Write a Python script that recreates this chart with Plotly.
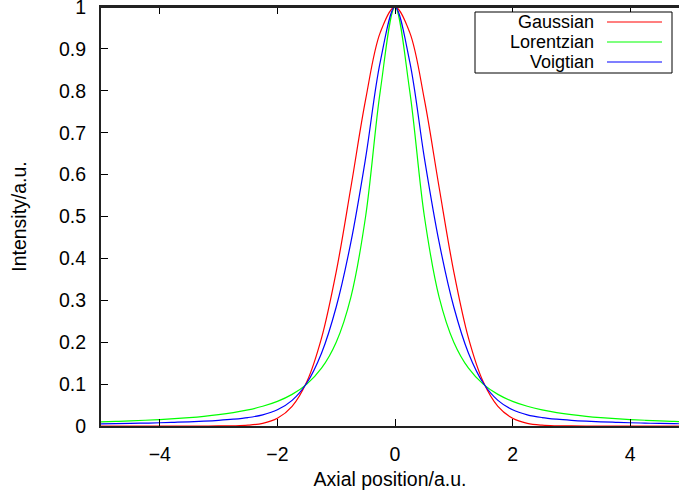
import plotly.graph_objects as go

x_values = [-5.0, -4.75, -4.5, -4.25, -4.0, -3.75, -3.5, -3.25, -3.0, -2.75, -2.5, -2.25,
            -2.0, -1.75, -1.5, -1.25, -1.0, -0.75, -0.5, -0.25, 0.0,
            0.25, 0.5, 0.75, 1.0, 1.25, 1.5, 1.75, 2.0, 2.25, 2.5, 2.75, 3.0,
            3.25, 3.5, 3.75, 4.0, 4.25, 4.5, 4.75, 5.0]

gaussian = [0.0, 0.0, 0.0, 0.0, 0.0, 0.0, 0.0, 0.0, 0.0001, 0.0005, 0.0019, 0.0063,
            0.0183, 0.0468, 0.1054, 0.2096, 0.3679, 0.5698, 0.7788, 0.9394, 1.0,
            0.9394, 0.7788, 0.5698, 0.3679, 0.2096, 0.1054, 0.0468, 0.0183, 0.0063, 0.0019, 0.0005, 0.0001,
            0.0, 0.0, 0.0, 0.0, 0.0, 0.0, 0.0, 0.0]

lorentzian = [0.0099, 0.0110, 0.0122, 0.0137, 0.0154, 0.0175, 0.0200, 0.0231, 0.0270, 0.0320, 0.0385, 0.0471,
              0.0588, 0.0755, 0.1000, 0.1379, 0.2000, 0.3077, 0.5000, 0.8000, 1.0,
              0.8000, 0.5000, 0.3077, 0.2000, 0.1379, 0.1000, 0.0755, 0.0588, 0.0471, 0.0385, 0.0320, 0.0270,
              0.0231, 0.0200, 0.0175, 0.0154, 0.0137, 0.0122, 0.0110, 0.0099]

voigtian = [0.0050, 0.0055, 0.0061, 0.0069, 0.0077, 0.0088, 0.0100, 0.0116, 0.0136, 0.0163, 0.0202, 0.0267,
            0.0386, 0.0612, 0.1027, 0.1738, 0.2840, 0.4388, 0.6394, 0.8697, 1.0,
            0.8697, 0.6394, 0.4388, 0.2840, 0.1738, 0.1027, 0.0612, 0.0386, 0.0267, 0.0202, 0.0163, 0.0136,
            0.0116, 0.0100, 0.0088, 0.0077, 0.0069, 0.0061, 0.0055, 0.0050]

series_names = ["Gaussian", "Lorentzian", "Voigtian"]
series_values = [gaussian, lorentzian, voigtian]
series_colors = ["#ff0000", "#00ff00", "#0000ff"]

x_ticks = [-4, -2, 0, 2, 4]
x_tick_labels = ["\u22124", "\u22122", "0", "2", "4"]
y_ticks = [0, 0.1, 0.2, 0.3, 0.4, 0.5, 0.6, 0.7, 0.8, 0.9, 1]
y_tick_labels = ["0", "0.1", "0.2", "0.3", "0.4", "0.5", "0.6", "0.7", "0.8", "0.9", "1"]

FONT = "Liberation Sans, Arial, sans-serif"
W, H = 679, 492
L, R, T, B = 101, 0, 7, 66

fig = go.Figure()
for name, vals, col in zip(series_names, series_values, series_colors):
    fig.add_trace(go.Scatter(x=x_values, y=vals, mode="lines", name=name,
                             line=dict(color=col, width=1.2, shape="spline", smoothing=1.0),
                             showlegend=False))

fig.update_layout(
    width=W, height=H,
    margin=dict(l=L, r=R, t=T, b=B, pad=0, autoexpand=False),
    paper_bgcolor="white", plot_bgcolor="white",
    font=dict(family=FONT, size=19.5, color="black"),
    showlegend=False,
)
fig.update_xaxes(
    range=[-5, 4.83], tickvals=x_ticks, ticktext=x_tick_labels,
    ticks="inside", ticklen=7, tickwidth=1, tickcolor="black",
    showline=True, linecolor="#222222", linewidth=2, mirror="ticks",
    showgrid=False, zeroline=False, ticklabelstandoff=10, automargin=False,
    title=dict(text="Axial position/a.u.", standoff=8, font=dict(size=19.5)),
)
fig.update_yaxes(
    range=[0, 1], tickvals=y_ticks, ticktext=y_tick_labels,
    ticks="inside", ticklen=7, tickwidth=1, tickcolor="black",
    showline=True, linecolor="#222222", linewidth=2, mirror=False,
    showgrid=False, zeroline=False, ticklabelstandoff=9, automargin=False,
    ticklabeloverflow="allow",
    title=dict(text="Intensity/a.u.", standoff=27, font=dict(size=19.5)),
)

# top frame line (gnuplot border)
fig.add_shape(type="line", xref="paper", yref="paper", x0=0, x1=1, y0=1, y1=1,
              line=dict(color="#222222", width=2), layer="above")

# Legend drawn gnuplot-style: text right-aligned, line sample on the right, framed box
pw = W - L - R
ph = H - T - B
def px_x(p):
    return (p - L) / pw
def px_y(p):
    return 1 - (p - T) / ph

fig.add_shape(type="rect", xref="paper", yref="paper",
              x0=px_x(475), x1=px_x(672), y0=px_y(73), y1=px_y(12),
              line=dict(color="black", width=1), fillcolor="white", layer="above")
rows = [22, 42, 62]
for name, col, ry in zip(series_names, series_colors, rows):
    fig.add_annotation(xref="paper", yref="paper", x=px_x(596), y=px_y(ry),
                       text=name, showarrow=False, xanchor="right", yanchor="middle",
                       font=dict(family=FONT, size=18, color="black"))
    fig.add_shape(type="line", xref="paper", yref="paper",
                  x0=px_x(607), x1=px_x(662), y0=px_y(ry), y1=px_y(ry),
                  line=dict(color=col, width=1.2), layer="above")

fig.write_html("out.html")
